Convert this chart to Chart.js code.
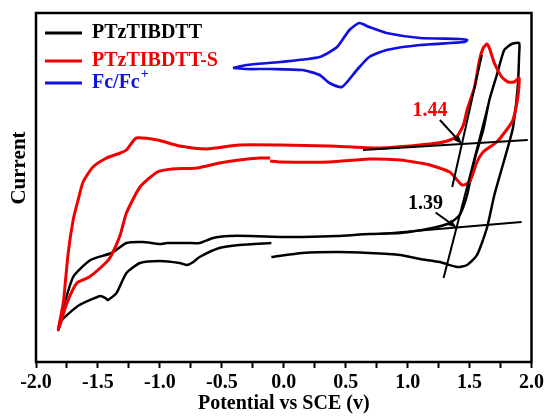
<!DOCTYPE html>
<html>
<head>
<meta charset="utf-8">
<script src="https://cdn.jsdelivr.net/npm/chart.js@4/dist/chart.umd.min.js"></script>
<style>
  html, body { margin: 0; padding: 0; background: #fff; }
</style>
</head>
<body>
<canvas id="cvChart" width="547" height="416"></canvas>
<script>
// ========== Data ==========
// potential (V vs SCE) and current (a.u.)
const seriesNames = ['PTzTIBDTT', 'PTzTIBDTT-S', 'Fc/Fc+'];

const blackV = [-0.10, 0.15, 0.43, 0.69, 0.94, 1.10, 1.26, 1.40, 1.48, 1.56, 1.64, 1.70, 1.78, 1.85, 1.89, 1.90, 1.90, 1.84, 1.78, 1.72, 1.66, 1.61, 1.54, 1.48, 1.42, 1.34, 1.20, 0.94, 0.69, 0.43, 0.15, -0.03, -0.27, -0.44, -0.57, -0.68, -0.78, -0.94, -1.00, -1.14, -1.27, -1.39, -1.56, -1.70, -1.79, -1.82, -1.79, -1.65, -1.48, -1.44, -1.42, -1.35, -1.27, -1.16, -1.00, -0.84, -0.78, -0.73, -0.68, -0.52, -0.36, -0.10];
const blackI = [105, 109, 110, 109, 107, 103, 100, 95, 97, 107, 134, 167, 202, 234, 277, 307, 319, 318, 312, 287, 262, 232, 202, 167, 147, 139, 134, 129, 128, 126, 125, 125, 126, 126, 124, 119, 119, 119, 118, 120, 119, 109, 102, 85, 49, 32, 42, 57, 66, 64, 62, 69, 89, 99, 101, 99, 97, 100, 105, 114, 117, 119];

const redV = [-0.11, -0.03, 0.37, 0.69, 0.94, 1.10, 1.18, 1.34, 1.40, 1.44, 1.50, 1.56, 1.61, 1.72, 1.81, 1.85, 1.89, 1.90, 1.86, 1.81, 1.76, 1.70, 1.66, 1.64, 1.61, 1.58, 1.54, 1.48, 1.45, 1.40, 1.32, 1.18, 0.77, 0.37, -0.03, -0.36, -0.62, -0.84, -1.02, -1.19, -1.27, -1.32, -1.43, -1.54, -1.62, -1.66, -1.70, -1.74, -1.78, -1.82, -1.75, -1.67, -1.57, -1.43, -1.39, -1.32, -1.27, -1.16, -1.02, -0.90, -0.70, -0.52, -0.36, -0.19, -0.11];
const redI = [201, 200, 200, 203, 202, 199, 197, 190, 182, 177, 180, 200, 210, 220, 234, 242, 265, 284, 280, 280, 285, 299, 314, 318, 314, 302, 275, 252, 237, 226, 221, 218, 214, 216, 217, 217, 213, 216, 222, 224, 212, 209, 204, 195, 180, 162, 142, 109, 59, 32, 59, 79, 85, 100, 107, 127, 149, 175, 190, 193, 194, 199, 202, 204, 204];

const fcV = [-0.41, -0.30, -0.03, 0.29, 0.43, 0.53, 0.61, 0.69, 0.83, 1.10, 1.42, 1.48, 1.46, 1.10, 0.83, 0.69, 0.59, 0.47, 0.37, 0.29, 0.15, -0.11, -0.30, -0.41];
const fcI = [294, 297, 300, 305, 315, 332, 339, 335, 329, 324, 323, 322, 320, 317, 312, 305, 292, 275, 279, 287, 292, 293, 293, 294];

// onset tangent lines (two end points each)
const redBaseV = [0.64, 1.97];
const redBaseI = [212, 222];
const redSteepV = [1.36, 1.60];
const redSteepI = [175, 307];
const blackBaseV = [0.77, 1.92];
const blackBaseI = [128, 140];
const blackSteepV = [1.29, 1.65];
const blackSteepI = [84, 257];

const onsetLabels = ['1.44', '1.39'];

// ========== Helpers ==========
const BLACK = '#000000';
const RED = '#f00000';
const BLUE = '#1010e0';
const FONT = '"Liberation Serif", "Times New Roman", serif';

const toPoints = (xs, ys) => xs.map((x, i) => ({ x, y: ys[i] }));

function intersect(ax, ay, bx, by) {
  const m1 = (ay[1] - ay[0]) / (ax[1] - ax[0]);
  const m2 = (by[1] - by[0]) / (bx[1] - bx[0]);
  const x = (by[0] - ay[0] + m1 * ax[0] - m2 * bx[0]) / (m1 - m2);
  return { x, y: ay[0] + m1 * (x - ax[0]) };
}

function tangent(xs, ys) {
  return { data: toPoints(xs, ys), borderColor: BLACK, borderWidth: 2, tension: 0, order: 1, legend: false };
}

// ========== Extras: frame, legend, onset arrows, y title ==========
const notes = [
  { text: onsetLabels[0], color: RED, at: intersect(redBaseV, redBaseI, redSteepV, redSteepI), dx: -32, dy: -33 },
  { text: onsetLabels[1], color: BLACK, at: intersect(blackBaseV, blackBaseI, blackSteepV, blackSteepI), dx: -31, dy: -24 }
];

const extras = {
  id: 'extras',
  afterDraw(chart) {
    const { ctx, chartArea: a, scales: { x, y } } = chart;
    ctx.save();

    // box round the plot
    ctx.strokeStyle = BLACK;
    ctx.lineWidth = 2.5;
    ctx.strokeRect(a.left, a.top, a.right - a.left, a.bottom - a.top);

    // legend
    const rows = [20, 48, 70];
    ctx.font = 'bold 20px ' + FONT;
    ctx.textBaseline = 'middle';
    chart.data.datasets.filter(d => d.legend).forEach((d, i) => {
      const yy = a.top + rows[i];
      ctx.strokeStyle = d.borderColor;
      ctx.lineWidth = 3;
      ctx.beginPath();
      ctx.moveTo(a.left + 9, yy);
      ctx.lineTo(a.left + 46, yy);
      ctx.stroke();
      ctx.fillStyle = d.borderColor;
      let label = d.label;
      const sup = label.endsWith('+');
      if (sup) label = label.slice(0, -1);
      ctx.font = 'bold 20px ' + FONT;
      ctx.fillText(label, a.left + 56, yy);
      if (sup) {
        const w = ctx.measureText(label).width;
        ctx.font = 'bold 14px ' + FONT;
        ctx.fillText('+', a.left + 56 + w + 1, yy - 9);
      }
    });

    // onset labels with arrows
    notes.forEach(n => {
      const tx = x.getPixelForValue(n.at.x);
      const ty = y.getPixelForValue(n.at.y);
      const lx = tx + n.dx, ly = ty + n.dy;
      ctx.fillStyle = n.color;
      ctx.font = 'bold 20px ' + FONT;
      ctx.textAlign = 'center';
      ctx.fillText(n.text, lx, ly);

      const sx = lx + 10, sy = ly + 9;
      const ang = Math.atan2(ty - sy, tx - sx);
      ctx.strokeStyle = BLACK;
      ctx.fillStyle = BLACK;
      ctx.lineWidth = 2;
      ctx.beginPath();
      ctx.moveTo(sx, sy);
      ctx.lineTo(tx - 6 * Math.cos(ang), ty - 6 * Math.sin(ang));
      ctx.stroke();
      ctx.beginPath();
      ctx.moveTo(tx, ty);
      ctx.lineTo(tx - 9 * Math.cos(ang) + 3.5 * Math.sin(ang), ty - 9 * Math.sin(ang) - 3.5 * Math.cos(ang));
      ctx.lineTo(tx - 9 * Math.cos(ang) - 3.5 * Math.sin(ang), ty - 9 * Math.sin(ang) + 3.5 * Math.cos(ang));
      ctx.closePath();
      ctx.fill();
    });

    // y axis title
    ctx.translate(20, 168);
    ctx.rotate(-Math.PI / 2);
    ctx.fillStyle = BLACK;
    ctx.font = 'bold 21px ' + FONT;
    ctx.textAlign = 'center';
    ctx.fillText('Current', 0, 0);

    ctx.restore();
  }
};

// ========== Chart ==========
Chart.defaults.font.family = FONT;
Chart.defaults.font.weight = 'bold';
Chart.defaults.color = BLACK;

new Chart(document.getElementById('cvChart'), {
  type: 'scatter',
  data: {
    datasets: [
      { label: seriesNames[0], data: toPoints(blackV, blackI), borderColor: BLACK, borderWidth: 2.5, tension: 0.2, order: 3, legend: true },
      { label: seriesNames[1], data: toPoints(redV, redI), borderColor: RED, borderWidth: 3, tension: 0.2, order: 2, legend: true },
      { label: seriesNames[2], data: toPoints(fcV, fcI), borderColor: BLUE, borderWidth: 2.7, tension: 0.2, order: 2, legend: true },
      tangent(redBaseV, redBaseI),
      tangent(redSteepV, redSteepI),
      tangent(blackBaseV, blackBaseI),
      tangent(blackSteepV, blackSteepI)
    ]
  },
  options: {
    responsive: false,
    animation: false,
    showLine: true,
    elements: { point: { radius: 0, hoverRadius: 0 } },
    layout: { padding: { top: 13, right: 15, left: 0, bottom: 0 } },
    plugins: { legend: { display: false }, tooltip: { enabled: false } },
    scales: {
      x: {
        type: 'linear',
        min: -2,
        max: 2,
        afterFit: s => { s.height = 54; },
        border: { display: false },
        grid: { display: true, drawOnChartArea: false, tickLength: 6, tickWidth: 2, tickColor: BLACK },
        ticks: {
          stepSize: 0.25,
          autoSkip: false,
          maxRotation: 0,
          padding: 3,
          font: { size: 20, weight: 'bold' },
          callback: v => (Math.round(v * 4) % 2 === 0 ? v.toFixed(1) : '')
        },
        title: { display: true, text: 'Potential vs SCE (v)', font: { size: 20, weight: 'bold' }, padding: { top: 0, bottom: 0 } }
      },
      y: {
        min: 0,
        max: 349,
        afterFit: s => { s.width = 36; },
        border: { display: false },
        grid: { display: false },
        ticks: { display: false }
      }
    }
  },
  plugins: [extras]
});
</script>
</body>
</html>
